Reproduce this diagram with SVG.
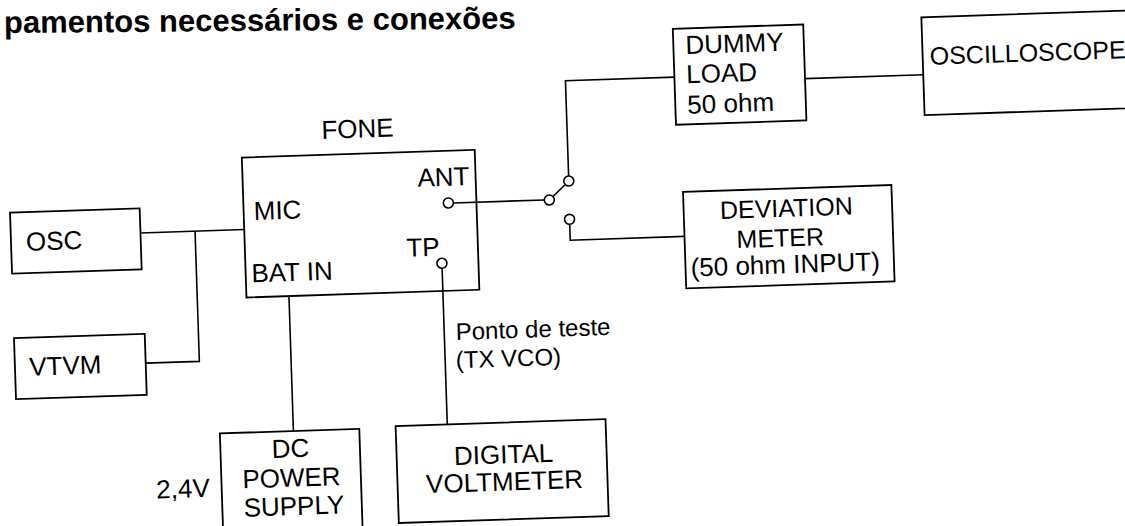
<svg xmlns="http://www.w3.org/2000/svg" width="1125" height="526" viewBox="0 0 1125 526">
<style>
.box{fill:none;stroke:#000;stroke-width:1.8}
.wire{fill:none;stroke:#000;stroke-width:1.6}
.term{fill:#fff;stroke:#000;stroke-width:1.6}
text{font-family:"Liberation Sans",Arial,Helvetica,sans-serif;font-size:26px;fill:#000}
.mid{text-anchor:middle}
.title{font-weight:bold;font-size:31px}
</style>
<rect width="1125" height="526" fill="#fff"/>
<text class="title" x="4" y="33" transform="rotate(-0.5 6 33)">pamentos necessários e conexões</text>
<g transform="rotate(-1.9 562 263)">
<g id="connectors">
<polyline class="wire" points="141.7,219 245.5,219"/>
<polyline class="wire" points="196.3,219 196.3,349.3 142.6,349.3"/>
<line class="wire" x1="455.4" y1="199.4" x2="546.4" y2="199.4"/>
<line class="wire" x1="555.2" y1="196.2" x2="567.9" y2="184.6"/>
<polyline class="wire" points="571.5,176.3 571.5,81 680.5,81"/>
<polyline class="wire" points="571,224.6 571,240.5 685.3,240.5"/>
<line class="wire" x1="811" y1="86.8" x2="929.3" y2="86.8"/>
<line class="wire" x1="288" y1="287" x2="288" y2="422"/>
<line class="wire" x1="442" y1="264.3" x2="442" y2="420.5"/>
<circle class="term" cx="551.4" cy="199.6" r="5"/>
<circle class="term" cx="571.5" cy="181.3" r="5"/>
<circle class="term" cx="571" cy="219.6" r="5"/>
</g>
<g id="osc">
<rect class="box" x="12" y="194.4" width="129.7" height="61"/>
<text x="27" y="233">OSC</text>
</g>
<g id="vtvm">
<rect class="box" x="11.8" y="320" width="130.8" height="61"/>
<text x="26" y="358">VTVM</text>
</g>
<g id="fone">
<text class="mid" x="362" y="131">FONE</text>
<rect class="box" x="245.5" y="147" width="233" height="140"/>
<text x="255.6" y="209.8">MIC</text>
<text x="420.3" y="182">ANT</text>
<text x="407" y="251.6">TP</text>
<text x="251.2" y="272">BAT IN</text>
<circle class="term" cx="450.4" cy="199.2" r="5"/>
<circle class="term" cx="442" cy="259.3" r="5"/>
</g>
<g id="dummy">
<rect class="box" x="680.5" y="32.6" width="130.5" height="96"/>
<text x="692.5" y="58.2">DUMMY</text>
<text x="692.5" y="87.5">LOAD</text>
<text x="692.5" y="118">50 ohm</text>
</g>
<g id="oscilloscope">
<rect class="box" x="929.3" y="29.4" width="260" height="97.8"/>
<text x="936.4" y="77" style="font-size:25px">OSCILLOSCOPE</text>
</g>
<g id="deviation">
<rect class="box" x="685.3" y="196" width="208.5" height="96.5"/>
<text class="mid" x="788" y="224.2" style="font-size:25px">DEVIATION</text>
<text class="mid" x="781" y="253.9" style="font-size:25px">METER</text>
<text class="mid" x="785" y="280.7">(50 ohm INPUT)</text>
</g>
<g id="dc">
<rect class="box" x="214.4" y="422" width="139.5" height="130"/>
<text class="mid" x="284.5" y="448.2">DC</text>
<text class="mid" x="284.5" y="477.6">POWER</text>
<text class="mid" x="286" y="506">SUPPLY</text>
<text x="202.5" y="485" style="text-anchor:end">2,4V</text>
</g>
<g id="dvm">
<rect class="box" x="390.3" y="420.5" width="210" height="97"/>
<text class="mid" x="497.3" y="461.3">DIGITAL</text>
<text class="mid" x="497.3" y="488.5">VOLTMETER</text>
</g>
<g id="tp-label">
<text x="453.5" y="336.4" style="font-size:24px">Ponto de teste</text>
<text x="452.6" y="364.7" style="font-size:24px">(TX VCO)</text>
</g>
</g>
</svg>
